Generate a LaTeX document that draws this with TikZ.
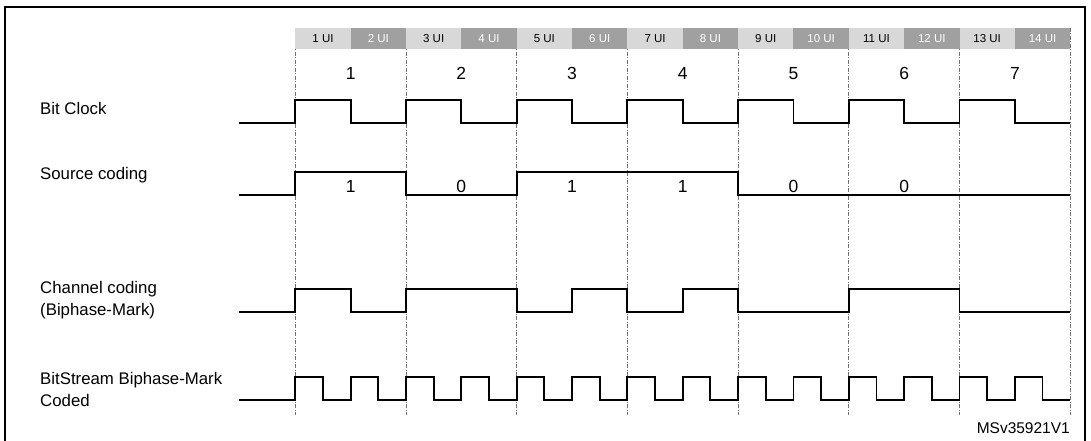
\documentclass[tikz,border=0pt]{standalone}
\usepackage{fontspec}
\setmainfont{Liberation Sans}
\usetikzlibrary{positioning}
\definecolor{uilight}{RGB}{216,216,216}
\definecolor{uidark}{RGB}{160,160,160}
\begin{document}
\begin{tikzpicture}[x=1pt, y=-1pt,
    wave/.style={line width=1.9pt, line join=miter},
    tick/.style={black!55, line width=0.9pt, dash pattern=on 4pt off 1.5pt on 1pt off 1.5pt},
    uibox/.style={minimum width=55.35pt, minimum height=20.5pt, inner sep=0pt, font=\fontsize{11.5}{12}\selectfont},
    lbl/.style={anchor=west, align=left, inner sep=0pt, font=\fontsize{16.8}{21.5}\selectfont},
    num/.style={inner sep=0pt, font=\fontsize{17.5}{18}\selectfont}]
    \useasboundingbox (0,0) rectangle (1091,441);
    \draw[line width=2.4pt] (5,460) -- (5,7) -- (1085,7) -- (1085,460);
    % time grid
    \foreach \k in {0,...,7}
        \draw[tick] ({295.3+\k*110.7},28) -- ({295.3+\k*110.7},415);
    \foreach \i in {1,...,14} {
        \ifodd\i \def\bg{uilight}\def\fg{black}\else \def\bg{uidark}\def\fg{white}\fi
        \node[uibox, fill=\bg, text=\fg] (ui\i) at ({295.3+(\i-0.5)*55.35},38.3) {\i\ UI};
    }
    \foreach \k in {1,...,7}
        \node[num] (n\k) at ({295.3+(\k-0.5)*110.7},73.3) {\k};
    % signal names
    \node[lbl] (lclk) at (40,108.3) {Bit Clock};
    \node[lbl] (lsrc) at (40,175) {Source coding};
    \node[lbl] (lchan) at (40,300) {Channel coding\\(Biphase-Mark)};
    \node[lbl] (lbits) at (40,389.5) {BitStream Biphase-Mark\\Coded};
    % bit clock
    \draw[wave] (239,123.3) -- (295.3,123.3)
        \foreach \k in {0,...,6} { -- ++(0,-23.3) -- ++(55.35,0) -- ++(0,23.3) -- ++(55.35,0) };
    % source coding
    \draw[wave] (239,195.3) -| (295.3,171.7) -| (406,195.3) -| (516.7,171.7)
        -| (738.1,195.3) -- (1070.2,195.3);
    \node[num] (b1) at (350.65,186.7) {1};
    \node[num] (b2) at (461.35,186.7) {0};
    \node[num] (b3) at (572.05,186.7) {1};
    \node[num] (b4) at (682.75,186.7) {1};
    \node[num] (b5) at (793.45,186.7) {0};
    \node[num] (b6) at (904.15,186.7) {0};
    % channel coding
    \draw[wave] (239,312.3) -| (295.3,289.3) -| (350.65,312.3) -| (406,289.3)
        -| (516.7,312.3) -| (572.05,289.3) -| (627.4,312.3) -| (682.75,289.3)
        -| (738.1,312.3) -| (848.8,289.3) -| (959.5,312.3) -- (1070.2,312.3);
    % bitstream
    \draw[wave] (239,400.3) -- (295.3,400.3)
        \foreach \k in {1,...,14} { -- ++(0,-23.3) -- ++(27.675,0) -- ++(0,23.3) -- ++(27.675,0) };
    \node[anchor=east, inner sep=0pt, font=\fontsize{15.5}{16}\selectfont] (ref) at (1070,428.3) {MSv35921V1};
\end{tikzpicture}
\end{document}
